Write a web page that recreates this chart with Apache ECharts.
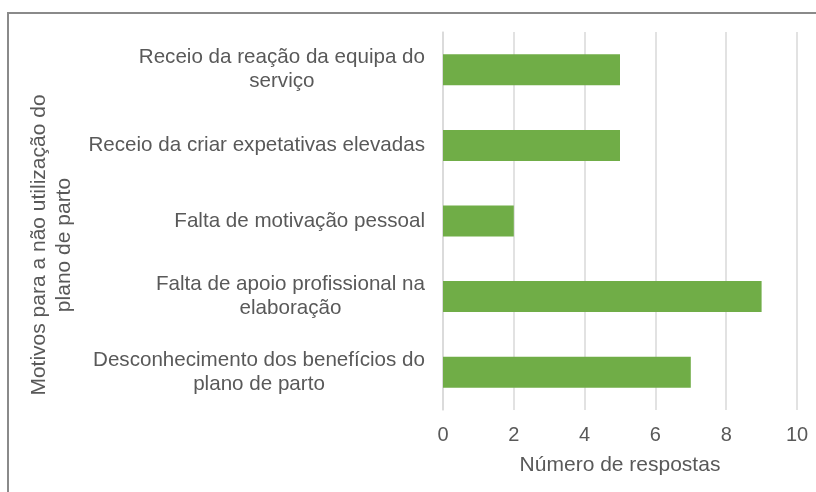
<!DOCTYPE html>
<html>
<head>
<meta charset="utf-8">
<script src="https://cdn.jsdelivr.net/npm/echarts@6/dist/echarts.min.js"></script>
<style>
  html, body { margin: 0; padding: 0; background: #fff; overflow: hidden; }
  #wrap { position: relative; width: 816px; height: 492px; }
  #frame {
    position: absolute; left: 7px; top: 12px; width: 900px; height: 600px;
    border: 2px solid #8a8a8a; box-sizing: border-box;
  }
  #chart { position: absolute; left: 0; top: 0; width: 816px; height: 492px; }
</style>
</head>
<body>
<div id="wrap">
  <div id="frame"></div>
  <div id="chart"></div>
</div>
<script>
const categories = [
  'Receio da reação da equipa do\nserviço',
  'Receio da criar expetativas elevadas',
  'Falta de motivação pessoal',
  'Falta de apoio profissional na\nelaboração',
  'Desconhecimento dos benefícios do\nplano de parto'
];
const respostas = [5, 5, 2, 9, 7];
const xTicks = [0, 2, 4, 6, 8, 10];

const textColor = '#595959';
const font = 'Liberation Sans, Arial, sans-serif';

const chart = echarts.init(document.getElementById('chart'));

const option = {
  animation: false,
  grid: { left: 443, right: 19, top: 32, bottom: 82, containLabel: false },
  xAxis: {
    type: 'value',
    min: xTicks[0],
    max: xTicks[xTicks.length - 1],
    interval: 2,
    name: 'Número de respostas',
    nameLocation: 'middle',
    nameGap: 45,
    nameTextStyle: { color: textColor, fontSize: 21, fontFamily: font },
    axisLine: { show: false },
    axisTick: { show: false },
    axisLabel: { color: textColor, fontSize: 20, fontFamily: font, margin: 15 },
    splitLine: { show: true, lineStyle: { color: '#d9d9d9', width: 1.5 } }
  },
  yAxis: {
    type: 'category',
    inverse: true,
    data: categories,
    axisLine: { show: true, lineStyle: { color: '#d9d9d9', width: 1.5 } },
    axisTick: { show: false },
    axisLabel: {
      margin: 18,
      align: 'right',
      // centre each line inside the right-aligned block
      formatter: v => v.split('\n').map(s => '{c|' + s + '}').join('\n'),
      rich: {
        c: { color: textColor, fontSize: 20.6, fontFamily: font, lineHeight: 24, align: 'center' }
      }
    }
  },
  graphic: [{
    type: 'text',
    x: 52,
    y: 245,
    rotation: Math.PI / 2,
    style: {
      text: 'Motivos para a não utilização do\nplano de parto',
      fill: textColor,
      font: '21px ' + font,
      lineHeight: 25,
      align: 'center',
      verticalAlign: 'middle'
    }
  }],
  series: [{
    type: 'bar',
    data: respostas,
    barWidth: '41%',
    itemStyle: { color: '#70ad47' }
  }]
};

chart.setOption(option);
</script>
</body>
</html>
